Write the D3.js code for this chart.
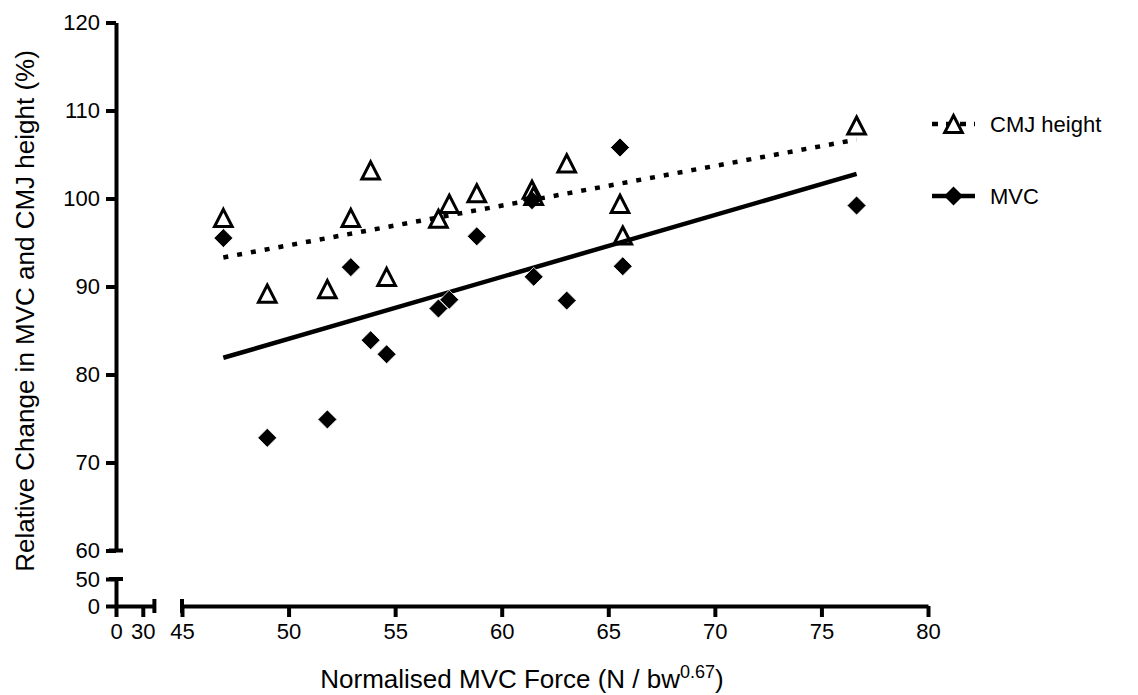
<!DOCTYPE html>
<html>
<head>
<meta charset="utf-8">
<script src="https://cdn.jsdelivr.net/npm/d3@7"></script>
<style>
  html, body { margin: 0; padding: 0; background: #fff; }
  svg { display: block; font-family: "Liberation Sans", Arial, sans-serif; }
</style>
</head>
<body>
<svg id="chart" width="1138" height="695"></svg>
<script>
// ---- data ----
const subjectX = [46.94, 49.0, 51.82, 52.92, 53.85, 54.6, 57.03, 57.54, 58.83, 61.42, 61.5, 63.05, 65.55, 65.68, 76.65];
const cmjHeight = [97.8, 89.2, 89.7, 97.8, 103.2, 91.1, 97.7, 99.4, 100.6, 101.0, 100.3, 104.0, 99.4, 95.8, 108.3];
const mvcValues = [95.5, 72.8, 74.9, 92.2, 83.9, 82.3, 87.5, 88.5, 95.7, 99.8, 91.1, 88.4, 105.8, 92.3, 99.2];
const fitX = [46.94, 76.65];
const cmjFit = [93.3, 106.7];
const mvcFit = [81.9, 102.8];
const xTicksLow = [0, 30];
const xTicksHigh = [45, 50, 55, 60, 65, 70, 75, 80];
const yTicksHigh = [60, 70, 80, 90, 100, 110, 120];
const yTicksLow = [0, 50];
const legendLabels = ["CMJ height", "MVC"];

const svg = d3.select("#chart");
const AX = 4;

// scales (broken axes)
const xLow = d3.scaleLinear().domain([0, 43]).range([116, 154.4]);
const xHigh = d3.scaleLinear().domain([45, 80]).range([182, 928]);
const yHigh = d3.scaleLinear().domain([60, 120]).range([550.5, 22.5]);
const yLow = d3.scaleLinear().domain([0, 50]).range([606, 579]);

function styleAxis(g) {
  g.selectAll("path.domain").attr("stroke", "#000").attr("stroke-width", AX);
  g.selectAll(".tick line").attr("stroke", "#000").attr("stroke-width", AX);
  g.selectAll(".tick text").attr("fill", "#000").style("font-size", "22px")
    .style("font-family", "Liberation Sans, Arial, sans-serif");
}

// Y axis upper segment
const gyH = svg.append("g").attr("transform", "translate(116,0)")
  .call(d3.axisLeft(yHigh).tickValues(yTicksHigh).tickSize(10).tickSizeOuter(0).tickPadding(6));
styleAxis(gyH);
// Y axis lower segment
const gyL = svg.append("g").attr("transform", "translate(116,0)")
  .call(d3.axisLeft(yLow).tickValues(yTicksLow).tickSize(10).tickSizeOuter(0).tickPadding(6));
styleAxis(gyL);

// X axis low segment
const gxL = svg.append("g").attr("transform", "translate(0,606)")
  .call(d3.axisBottom(xLow).tickValues(xTicksLow).tickSize(11).tickSizeOuter(0).tickPadding(6));
styleAxis(gxL);
// X axis high segment
const gxH = svg.append("g").attr("transform", "translate(0,606)")
  .call(d3.axisBottom(xHigh).tickValues(xTicksHigh).tickSize(11).tickSizeOuter(0).tickPadding(6));
styleAxis(gxH);

// break caps
const caps = svg.append("g").attr("stroke", "#000").attr("stroke-width", AX);
caps.append("line").attr("x1", 116 - 7).attr("x2", 116 + 7).attr("y1", yHigh(60)).attr("y2", yHigh(60));
caps.append("line").attr("x1", 116 - 7).attr("x2", 116 + 7).attr("y1", yLow(50)).attr("y2", yLow(50));
caps.append("line").attr("x1", xLow(43)).attr("x2", xLow(43)).attr("y1", 606 - 7).attr("y2", 606 + 7);
caps.append("line").attr("x1", xHigh(45)).attr("x2", xHigh(45)).attr("y1", 606 - 7).attr("y2", 606 + 7);

// fit lines
const lineGen = d3.line().x(d => xHigh(d[0])).y(d => yHigh(d[1]));
svg.append("path").datum(d3.zip(fitX, cmjFit)).attr("d", lineGen)
  .attr("fill", "none").attr("stroke", "#000").attr("stroke-width", 4.5).attr("stroke-dasharray", "5,9");
svg.append("path").datum(d3.zip(fitX, mvcFit)).attr("d", lineGen)
  .attr("fill", "none").attr("stroke", "#000").attr("stroke-width", 4.5);

const triPath = "M0,-8.5 L8.8,8.6 L-8.8,8.6 Z";
const diaPath = "M0,-9.5 L9.5,0 L0,9.5 L-9.5,0 Z";

// MVC diamonds
svg.append("g").selectAll("path").data(d3.zip(subjectX, mvcValues)).join("path")
  .attr("d", diaPath).attr("transform", d => `translate(${xHigh(d[0])},${yHigh(d[1])})`)
  .attr("fill", "#000").attr("stroke", "#fff").attr("stroke-width", 0.8);
// CMJ triangles
svg.append("g").selectAll("path").data(d3.zip(subjectX, cmjHeight)).join("path")
  .attr("d", triPath).attr("transform", d => `translate(${xHigh(d[0])},${yHigh(d[1])})`)
  .attr("fill", "none").attr("stroke", "#000").attr("stroke-width", 3);

// legend
const leg = svg.append("g");
const legY = [124, 196];
leg.append("line").attr("x1", 932).attr("x2", 975).attr("y1", legY[0]).attr("y2", legY[0])
  .attr("stroke", "#000").attr("stroke-width", 4.5).attr("stroke-dasharray", "6,8");
leg.append("path").attr("d", triPath).attr("transform", `translate(953.5,${legY[0]})`)
  .attr("fill", "#fff").attr("stroke", "#000").attr("stroke-width", 3);
leg.append("line").attr("x1", 932).attr("x2", 975).attr("y1", legY[1]).attr("y2", legY[1])
  .attr("stroke", "#000").attr("stroke-width", 4.5);
leg.append("path").attr("d", diaPath).attr("transform", `translate(953.5,${legY[1]})`)
  .attr("fill", "#000");
leg.selectAll("text").data(legendLabels).join("text")
  .attr("x", 990).attr("y", (d, i) => legY[i] + 8)
  .style("font-size", "22px").attr("fill", "#000").text(d => d);

// axis titles
const xt = svg.append("text").attr("x", 522).attr("y", 688).attr("text-anchor", "middle")
  .style("font-size", "26px").attr("fill", "#000");
xt.append("tspan").text("Normalised MVC Force (N / bw");
xt.append("tspan").attr("dy", -10).style("font-size", "18px").text("0.67");
xt.append("tspan").attr("dy", 10).text(")");

svg.append("text").attr("transform", "translate(34,311) rotate(-90)").attr("text-anchor", "middle")
  .style("font-size", "26px").attr("fill", "#000")
  .text("Relative Change in MVC and CMJ height (%)");
</script>
</body>
</html>
